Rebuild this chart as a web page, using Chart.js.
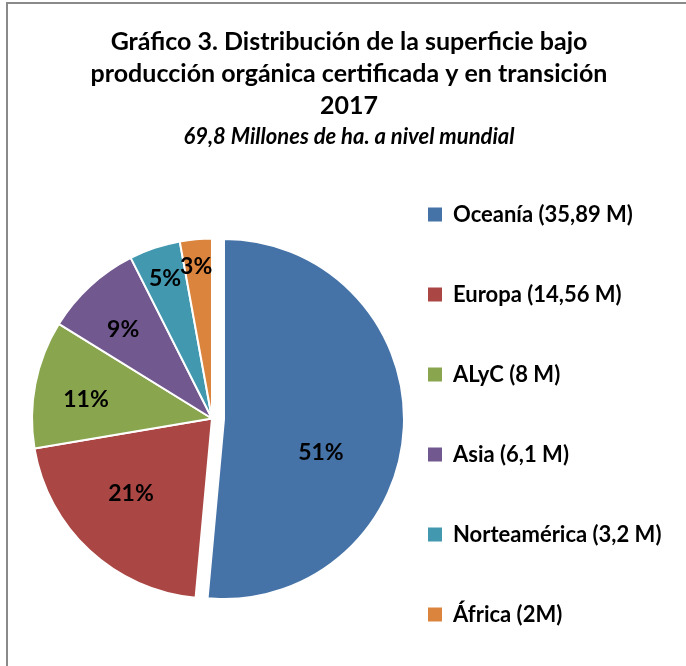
<!DOCTYPE html>
<html><head><meta charset="utf-8">
<script src="https://cdn.jsdelivr.net/npm/chart.js@4/dist/chart.umd.min.js"></script>
<style>html,body{margin:0;padding:0;background:#fff;} canvas{display:block;}</style>
</head><body>
<canvas id="c" width="686" height="666"></canvas>
<script>
// ---- data ----
const regions = ['Oceanía', 'Europa', 'ALyC', 'Asia', 'Norteamérica', 'África'];
const areaMillionHa = [35.89, 14.56, 8, 6.1, 3.2, 2];
const legendLabels = ['Oceanía (35,89 M)', 'Europa (14,56 M)', 'ALyC (8 M)', 'Asia (6,1 M)', 'Norteamérica (3,2 M)', 'África (2M)'];
const titleLines = ['Gráfico 3. Distribución de la superficie bajo', 'producción orgánica certificada y en transición', '2017'];
const subtitleText = '69,8 Millones de ha. a nivel mundial';

// ---- style ----
const sliceColors = ['#4572A7', '#AA4643', '#89A54E', '#71588F', '#4198AF', '#DB843D'];
const explodeDistance = [12, 0, 0, 0, 0, 0];
// [radial fraction, angular shift in degrees] for the percentage labels
const labelPlacement = [[0.569, 16.2], [0.615, 4.2], [0.708, -2.5], [0.697, -2.5], [0.818, 0], [0.846, -0.8]];
const FONT = 'Lato';

const framePlugin = {
  id: 'frame',
  beforeDraw(chart) {
    const ctx = chart.ctx;
    ctx.save();
    ctx.fillStyle = '#fff';
    ctx.fillRect(0, 0, chart.width, chart.height);
    ctx.strokeStyle = '#8a8a8a';
    ctx.lineWidth = 2;
    ctx.beginPath();
    ctx.moveTo(7, chart.height);
    ctx.lineTo(7, 3);
    ctx.lineTo(chart.width, 3);
    ctx.stroke();
    ctx.restore();
  }
};

// pull a slice out of the pie along its bisector, keeping its radius
const explodePlugin = {
  id: 'explode',
  afterDatasetUpdate(chart, args) {
    args.meta.data.forEach((arc, i) => {
      const d = explodeDistance[i];
      if (!d || arc.$exploded) return;
      const baseDraw = arc.draw;
      arc.draw = function (ctx) {
        const mid = (this.startAngle + this.endAngle) / 2;
        ctx.save();
        ctx.translate(Math.cos(mid) * d, Math.sin(mid) * d);
        baseDraw.call(this, ctx);
        ctx.restore();
      };
      arc.$exploded = true;
    });
  }
};

const pctLabels = {
  id: 'pctLabels',
  afterDatasetsDraw(chart) {
    const meta = chart.getDatasetMeta(0);
    const data = chart.data.datasets[0].data;
    const total = data.reduce((a, b) => a + b, 0);
    const ctx = chart.ctx;
    ctx.save();
    ctx.font = 'bold 23px ' + FONT;
    ctx.fillStyle = '#000';
    ctx.textAlign = 'center';
    ctx.textBaseline = 'middle';
    meta.data.forEach((arc, i) => {
      const mid = (arc.startAngle + arc.endAngle) / 2;
      const off = explodeDistance[i];
      const cx = arc.x + Math.cos(mid) * off;
      const cy = arc.y + Math.sin(mid) * off;
      const [f, sh] = labelPlacement[i];
      const a = mid + sh * Math.PI / 180;
      const r = arc.outerRadius * f;
      ctx.fillText(Math.round(data[i] / total * 100) + '%', cx + Math.cos(a) * r, cy + Math.sin(a) * r);
    });
    ctx.restore();
  }
};

new Chart(document.getElementById('c'), {
  type: 'pie',
  data: {
    labels: regions,
    datasets: [{
      data: areaMillionHa,
      backgroundColor: sliceColors,
      borderColor: '#ffffff',
      borderWidth: 2,
      hoverOffset: 0
    }]
  },
  options: {
    responsive: false,
    animation: false,
    events: [],
    layout: { padding: { left: 31, right: 19, top: 0, bottom: -17.5 } },
    plugins: {
      tooltip: { enabled: false },
      title: {
        display: true, text: titleLines, color: '#000',
        font: { family: FONT, weight: 'bold', size: 25, lineHeight: '32px' },
        padding: { top: 26, bottom: 0 }
      },
      subtitle: {
        display: true, text: subtitleText, color: '#000',
        font: { family: FONT, weight: 'bold', style: 'italic', size: 22, lineHeight: '30px' },
        padding: { top: 0, bottom: 19 }
      },
      legend: {
        position: 'right', fullSize: true, align: 'end', maxWidth: 274,
        labels: {
          boxWidth: 14, boxHeight: 14, padding: 35, color: '#000',
          font: { family: FONT, weight: 'bold', size: 22, lineHeight: '45px' },
          generateLabels(chart) {
            const ds = chart.data.datasets[0];
            return legendLabels.map((t, i) => ({
              text: [t], fillStyle: ds.backgroundColor[i], strokeStyle: ds.backgroundColor[i],
              lineWidth: 0, hidden: false, index: i
            }));
          }
        }
      }
    }
  },
  plugins: [framePlugin, explodePlugin, pctLabels]
});
</script>
</body></html>
